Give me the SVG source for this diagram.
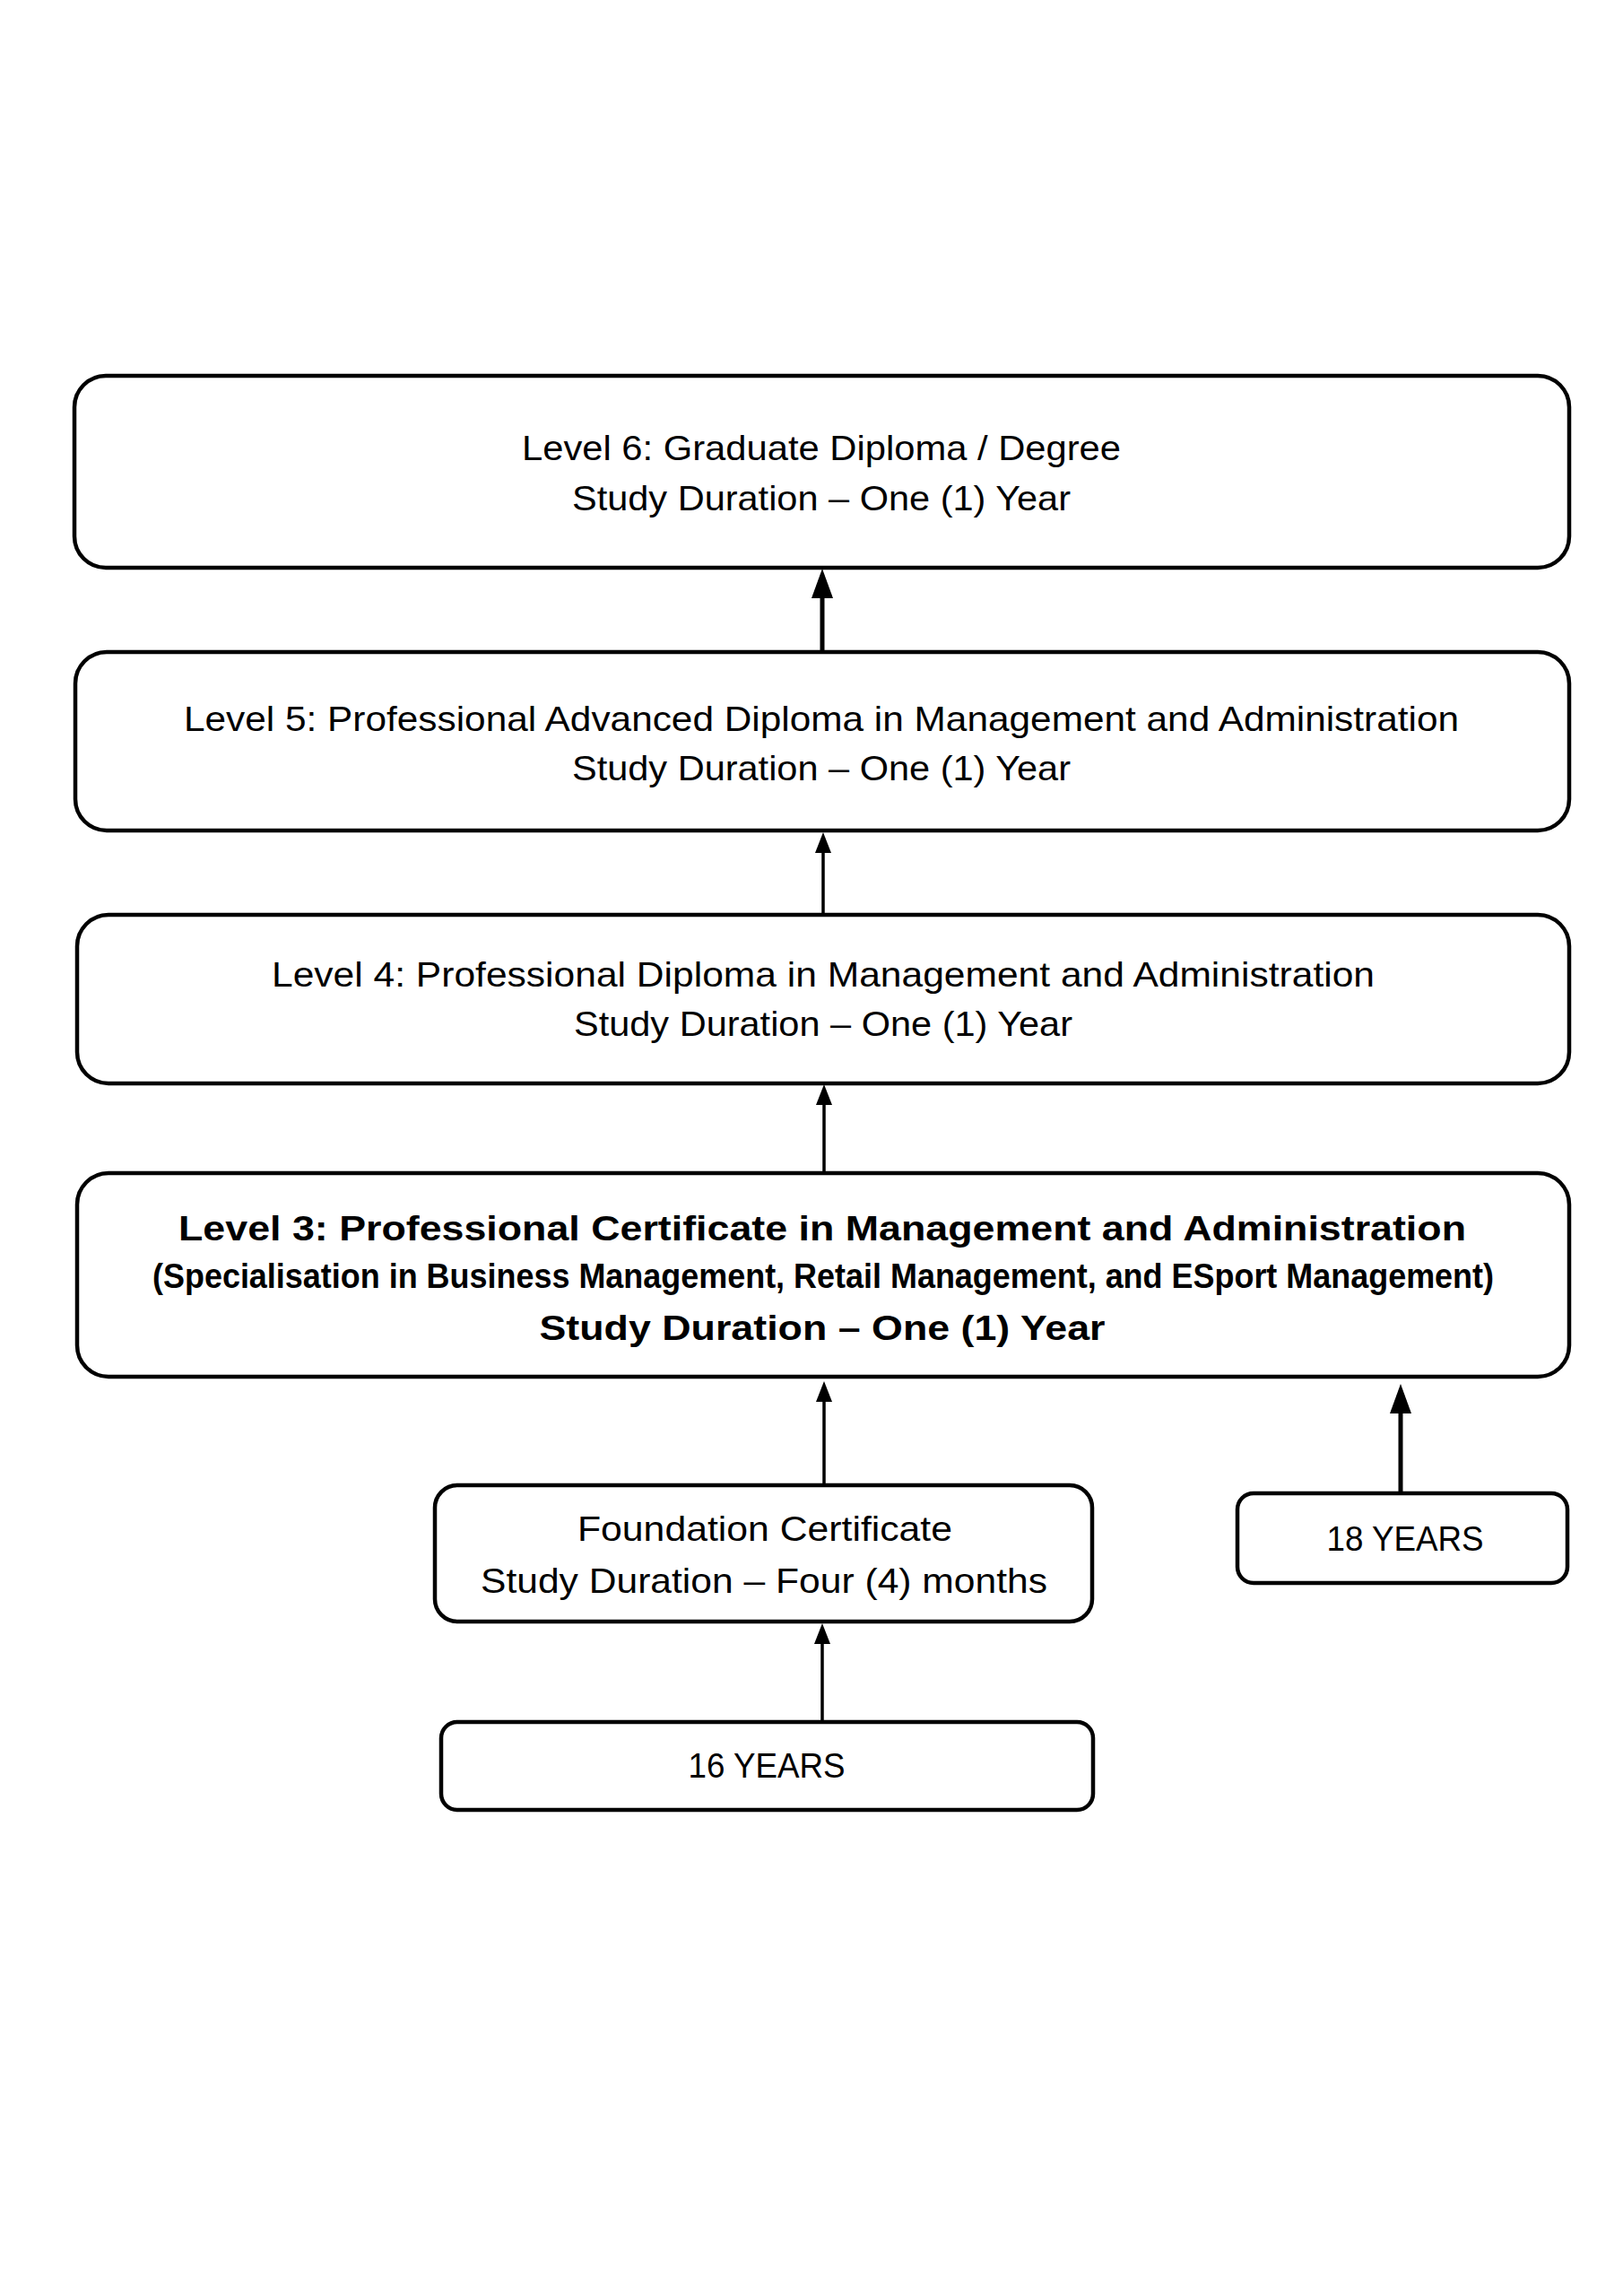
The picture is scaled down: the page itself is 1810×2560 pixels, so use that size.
<svg xmlns="http://www.w3.org/2000/svg" width="1810" height="2560" viewBox="0 0 1810 2560">
<style>
.box{fill:#fff;stroke:#000;stroke-width:4.5}
.t{font-family:"Liberation Sans",Arial,sans-serif;font-size:39px;fill:#000;text-anchor:middle}
.b{font-weight:bold}
.c{stroke:#000;fill:none}
</style>
<defs>
<marker id="big" markerUnits="userSpaceOnUse" viewBox="0 0 33 24" markerWidth="33" markerHeight="24" refX="0" refY="12" orient="auto"><path d="M0,0 L33,12 L0,24 z" fill="#000"/></marker>
<marker id="small" markerUnits="userSpaceOnUse" viewBox="0 0 23 18" markerWidth="23" markerHeight="18" refX="0" refY="9" orient="auto"><path d="M0,0 L23,9 L0,18 z" fill="#000"/></marker>
</defs>
<rect width="1810" height="2560" fill="#fff"/>
<g id="connectors">
<line class="c" x1="917" y1="727" x2="917" y2="667" stroke-width="5" marker-end="url(#big)"/>
<line class="c" x1="918" y1="1020" x2="918" y2="951" stroke-width="3.5" marker-end="url(#small)"/>
<line class="c" x1="919" y1="1308" x2="919" y2="1232" stroke-width="3.5" marker-end="url(#small)"/>
<line class="c" x1="919" y1="1656" x2="919" y2="1563" stroke-width="3.5" marker-end="url(#small)"/>
<line class="c" x1="1562" y1="1665" x2="1562" y2="1576" stroke-width="5" marker-end="url(#big)"/>
<line class="c" x1="917" y1="1920" x2="917" y2="1833" stroke-width="3.5" marker-end="url(#small)"/>
</g>
<g id="level6">
<rect class="box" x="83" y="419" width="1667" height="214" rx="35"/>
<text class="t" x="916" y="513" textLength="668" lengthAdjust="spacingAndGlyphs">Level 6: Graduate Diploma / Degree</text>
<text class="t" x="916" y="569" textLength="556" lengthAdjust="spacingAndGlyphs">Study Duration – One (1) Year</text>
</g>
<g id="level5">
<rect class="box" x="84" y="727" width="1666" height="199" rx="35"/>
<text class="t" x="916" y="815" textLength="1422" lengthAdjust="spacingAndGlyphs">Level 5: Professional Advanced Diploma in Management and Administration</text>
<text class="t" x="916" y="870" textLength="556" lengthAdjust="spacingAndGlyphs">Study Duration – One (1) Year</text>
</g>
<g id="level4">
<rect class="box" x="86" y="1020" width="1664" height="188" rx="35"/>
<text class="t" x="918" y="1100" textLength="1230" lengthAdjust="spacingAndGlyphs">Level 4: Professional Diploma in Management and Administration</text>
<text class="t" x="918" y="1155" textLength="556" lengthAdjust="spacingAndGlyphs">Study Duration – One (1) Year</text>
</g>
<g id="level3">
<rect class="box" x="86" y="1308" width="1664" height="227" rx="35"/>
<text class="t b" x="917" y="1383" font-size="44" textLength="1436" lengthAdjust="spacingAndGlyphs">Level 3: Professional Certificate in Management and Administration</text>
<text class="t b" x="918" y="1436" font-size="33" textLength="1496" lengthAdjust="spacingAndGlyphs">(Specialisation in Business Management, Retail Management, and ESport Management)</text>
<text class="t b" x="917" y="1494" font-size="44" textLength="631" lengthAdjust="spacingAndGlyphs">Study Duration – One (1) Year</text>
</g>
<g id="foundation">
<rect class="box" x="485" y="1656" width="733" height="152" rx="25"/>
<text class="t" x="853" y="1718" textLength="418" lengthAdjust="spacingAndGlyphs">Foundation Certificate</text>
<text class="t" x="852" y="1776" textLength="632" lengthAdjust="spacingAndGlyphs">Study Duration – Four (4) months</text>
</g>
<g id="age18">
<rect class="box" x="1380" y="1665" width="368" height="100" rx="18"/>
<text class="t" x="1567" y="1729" textLength="175" lengthAdjust="spacingAndGlyphs">18 YEARS</text>
</g>
<g id="age16">
<rect class="box" x="492" y="1920" width="727" height="98" rx="18"/>
<text class="t" x="855" y="1982" textLength="175" lengthAdjust="spacingAndGlyphs">16 YEARS</text>
</g>
</svg>
